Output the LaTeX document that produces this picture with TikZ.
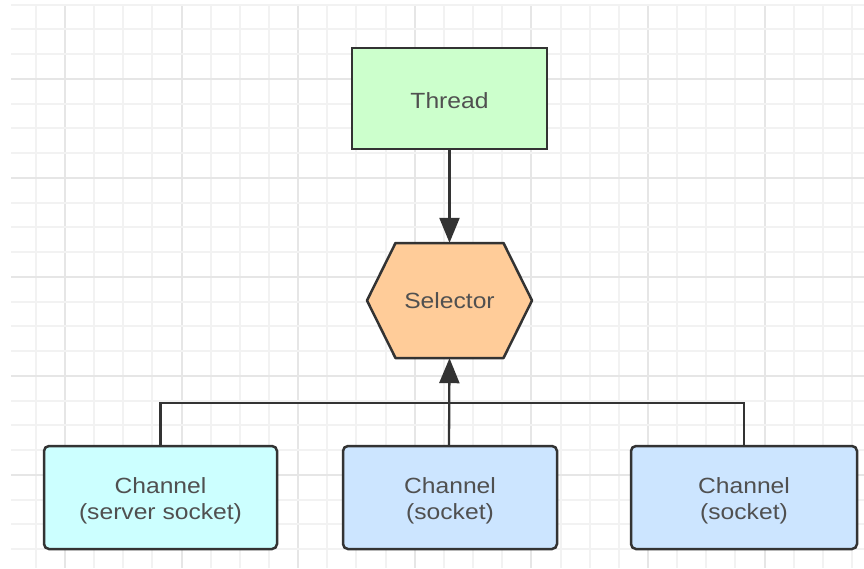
\documentclass[tikz,border=0pt]{standalone}
\usepackage{fontspec}
\setmainfont{Liberation Sans}[FakeStretch=1.12]
\usetikzlibrary{arrows.meta,calc}
\definecolor{gridminor}{HTML}{F2F2F2}
\definecolor{gridmajor}{HTML}{E6E6E6}
\definecolor{edgegray}{HTML}{333333}
\definecolor{textgray}{HTML}{505050}
\definecolor{threadfill}{HTML}{CCFFCC}
\definecolor{selectorfill}{HTML}{FFCC99}
\definecolor{serverfill}{HTML}{CCFFFF}
\definecolor{socketfill}{HTML}{CCE5FF}
\newcommand{\lowtext}[1]{\raisebox{-3pt}[\height][\depth]{#1}}
\tikzset{
  box/.style={draw=edgegray, line width=2.5pt, inner sep=0pt, text=textgray,
    font=\fontsize{22}{26}\selectfont, align=center},
  chanbox/.style={box, rounded corners=5pt, minimum height=103pt},
  link/.style={draw=edgegray, line width=2.3pt},
  linkarrow/.style={link, -{Triangle[length=25pt,width=20pt]}}
}
\begin{document}
\begin{tikzpicture}[x=1pt,y=-1pt]
  \useasboundingbox (0,0) rectangle (864,568);
  \fill[white] (0,0) rectangle (864,568);

  % grid
  \foreach \k in {-1,...,27} {
    \pgfmathsetmacro{\gx}{round(65+29.15*\k)}
    \pgfmathtruncatemacro{\gm}{mod(\k+4,4)}
    \ifnum\gm=0
      \draw[gridmajor, line width=1.2pt] (\gx,4.5) -- (\gx,568);
    \else
      \draw[gridminor, line width=1.2pt] (\gx,4.5) -- (\gx,568);
    \fi
  }
  \foreach \k in {0,...,22} {
    \pgfmathsetmacro{\gy}{round(4.55+24.75*\k)}
    \pgfmathtruncatemacro{\gm}{mod(\k,4)}
    \ifnum\gm=3
      \draw[gridmajor, line width=1.2pt] (11,\gy) -- (864,\gy);
    \else
      \draw[gridminor, line width=1.2pt] (11,\gy) -- (864,\gy);
    \fi
  }

  % nodes
  \node[box, fill=threadfill, minimum width=195pt, minimum height=101pt]
    (thread) at (449.5,98.5) {\raisebox{-2pt}[\height][\depth]{Thread}};

  \coordinate (selc) at (449.5,300.5);
  \fill[selectorfill] ($(selc)+(-82.5,0)$) -- ($(selc)+(-54,-57.5)$)
    -- ($(selc)+(54,-57.5)$) -- ($(selc)+(82.5,0)$)
    -- ($(selc)+(54,57.5)$) -- ($(selc)+(-54,57.5)$) -- cycle;
  \draw[edgegray, line width=2.5pt, line join=round]
    ($(selc)+(-82.5,0)$) -- ($(selc)+(-54,-57.5)$)
    -- ($(selc)+(54,-57.5)$) -- ($(selc)+(82.5,0)$)
    -- ($(selc)+(54,57.5)$) -- ($(selc)+(-54,57.5)$) -- cycle;
  \node[text=textgray, font=\fontsize{22}{26}\selectfont, inner sep=0pt,
    minimum width=108pt, minimum height=115pt] (selector) at (selc) {Selector};

  \node[chanbox, fill=serverfill, minimum width=233pt]
    (server) at (160.5,497.5) {\lowtext{Channel}\\\lowtext{(server socket)}};
  \node[chanbox, fill=socketfill, minimum width=214pt]
    (sockA) at (450,497.5) {\lowtext{Channel}\\\lowtext{(socket)}};
  \node[chanbox, fill=socketfill, minimum width=226pt]
    (sockB) at (744,497.5) {\lowtext{Channel}\\\lowtext{(socket)}};

  % connectors
  \coordinate (bus) at (449,403);
  \draw[linkarrow] (thread.south) -- (selector.north);
  \draw[link] (server.north) |- (bus) -| (sockB.north);
  \draw[linkarrow] (sockA.north -| bus) -- (selector.south);
\end{tikzpicture}
\end{document}
